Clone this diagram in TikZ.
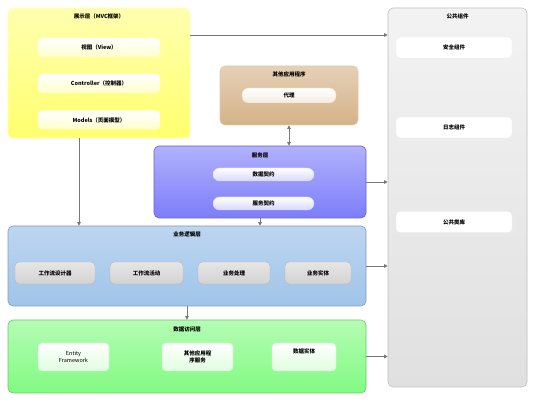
\documentclass[tikz,border=0pt]{standalone}
\usepackage{fontspec}
\setmainfont{Noto Sans CJK SC}
\usepackage{tikz}
\usetikzlibrary{arrows.meta, positioning, calc}
\definecolor{prescolor}{RGB}{255,255,110}
\definecolor{othercolor}{RGB}{212,178,135}
\definecolor{servcolor}{RGB}{125,125,250}
\definecolor{bizcolor}{RGB}{160,196,234}
\definecolor{datacolor}{RGB}{130,250,130}
\definecolor{commoncolor}{RGB}{224,224,224}
\definecolor{arrowcolor}{RGB}{120,120,120}

\begin{document}
\begin{tikzpicture}[
    x=1pt, y=-1pt,
    layer/.style={rounded corners=5pt, line width=0.6pt},
    item/.style={rounded corners=4pt, top color=white, font=\fontsize{5.5}{6.5}\selectfont\bfseries, align=center, inner sep=1pt},
    pill/.style={rounded corners=6.5pt, top color=white, font=\fontsize{5.5}{6.5}\selectfont\bfseries, inner sep=1pt},
    title/.style={font=\fontsize{5.5}{6.5}\selectfont\bfseries},
    arr/.style={-{Triangle[length=3.5pt, width=3.5pt]}, draw=arrowcolor, line width=0.7pt}
]
    \useasboundingbox (0,0) rectangle (536,403);

    % Common components
    \node[layer, draw=commoncolor!85!black, top color=commoncolor!40!white, bottom color=commoncolor, minimum width=139pt, minimum height=379pt] (common) at (457.5,197.5) {};
    \node[title] (commontitle) at (457.5,16) {公共组件};
    \node[item, draw=commoncolor!60!white, minimum width=116pt, minimum height=21pt] (security) at (454,47.5) {安全组件};
    \node[item, draw=commoncolor!60!white, minimum width=116pt, minimum height=21pt] (logging) at (454,127.5) {日志组件};
    \node[item, draw=commoncolor!60!white, minimum width=116pt, minimum height=21pt] (library) at (454,222) {公共类库};

    % Presentation layer
    \node[layer, draw=prescolor!60!white, top color=prescolor!55!white, bottom color=prescolor, minimum width=182pt, minimum height=130pt] (pres) at (99,73) {};
    \node[title] (prestitle) at (99,16) {展示层（MVC框架）};
    \node[item, bottom color=prescolor!35!white, minimum width=122pt, minimum height=19pt] (view) at (99,47.5) {视图（View）};
    \node[item, bottom color=prescolor!35!white, minimum width=122pt, minimum height=19pt] (ctrl) at (99,83.5) {Controller（控制器）};
    \node[item, bottom color=prescolor!35!white, minimum width=122pt, minimum height=19pt] (model) at (99,120) {Models（页面模型）};

    % Other applications
    \node[layer, draw=othercolor!70!white, top color=othercolor!60!white, bottom color=othercolor, minimum width=138pt, minimum height=59pt] (other) at (289,95.5) {};
    \node[title] (othertitle) at (289,74) {其他应用程序};
    \node[pill, draw=othercolor!50!white, bottom color=othercolor!25!white, minimum width=94pt, minimum height=15pt] (proxy) at (289,95.5) {代理};

    % Service layer
    \node[layer, draw=servcolor!80!black, top color=servcolor!60!white, bottom color=servcolor, minimum width=212pt, minimum height=72pt] (serv) at (260,182) {};
    \node[title] (servtitle) at (260,155) {服务层};
    \node[pill, draw=servcolor!30!white, bottom color=servcolor!30!white, minimum width=101pt, minimum height=13pt] (datacontract) at (263.5,174.5) {数据契约};
    \node[pill, draw=servcolor!30!white, bottom color=servcolor!30!white, minimum width=101pt, minimum height=13pt] (servcontract) at (263.5,203.5) {服务契约};

    % Business logic layer
    \node[layer, draw=bizcolor!80!black, top color=bizcolor!70!white, bottom color=bizcolor, minimum width=358pt, minimum height=80pt] (biz) at (187,266) {};
    \node[title] (biztitle) at (187,234) {业务逻辑层};
    \node[item, draw=gray!60, top color=gray!20, bottom color=gray!35, minimum width=80pt, minimum height=22pt] (wfdesign) at (55,273) {工作流设计器};
    \node[item, draw=gray!60, top color=gray!20, bottom color=gray!35, minimum width=73pt, minimum height=22pt] (wfactivity) at (146.5,273) {工作流活动};
    \node[item, draw=gray!60, top color=gray!20, bottom color=gray!35, minimum width=72pt, minimum height=22pt] (bizproc) at (234,273) {业务处理};
    \node[item, draw=gray!60, top color=gray!20, bottom color=gray!35, minimum width=66pt, minimum height=22pt] (bizentity) at (318,273) {业务实体};

    % Data access layer
    \node[layer, draw=datacolor!80!black, top color=datacolor!60!white, bottom color=datacolor, minimum width=358pt, minimum height=73pt] (data) at (187,356.5) {};
    \node[title] (datatitle) at (187,329) {数据访问层};
    \node[item, draw=datacolor!40!white, bottom color=datacolor!25!white, minimum width=71pt, minimum height=28pt, font=\fontsize{5.5}{6.5}\selectfont\mdseries] (ef) at (73.5,357) {Entity\\Framework};
    \node[item, draw=datacolor!40!white, bottom color=datacolor!25!white, minimum width=71pt, minimum height=28pt] (otherserv) at (197.5,357) {其他应用程\\序服务};
    \node[item, draw=datacolor!40!white, bottom color=datacolor!25!white, minimum width=64pt, minimum height=28pt] (dataentity) at (304,357) {数据实体\\[5pt]};

    % Connectors
    \draw[arr] ([yshift=38pt]pres.east) -- ([yshift=38pt]pres.east -| common.west);
    \draw[arr] (serv.east) -- (serv.east -| common.west);
    \draw[arr] (biz.east) -- (biz.east -| common.west);
    \draw[arr] (data.east) -- (data.east -| common.west);
    \draw[arr] ([xshift=-20pt]pres.south) -- ([xshift=-20pt]pres.south |- biz.north);
    \draw[arr, {Triangle[length=3.5pt, width=3.5pt]}-{Triangle[length=3.5pt, width=3.5pt]}] (other.south) -- (serv.north -| other.south);
    \draw[arr] (serv.south) -- (serv.south |- biz.north);
    \draw[arr] (biz.south) -- (data.north);
\end{tikzpicture}
\end{document}
